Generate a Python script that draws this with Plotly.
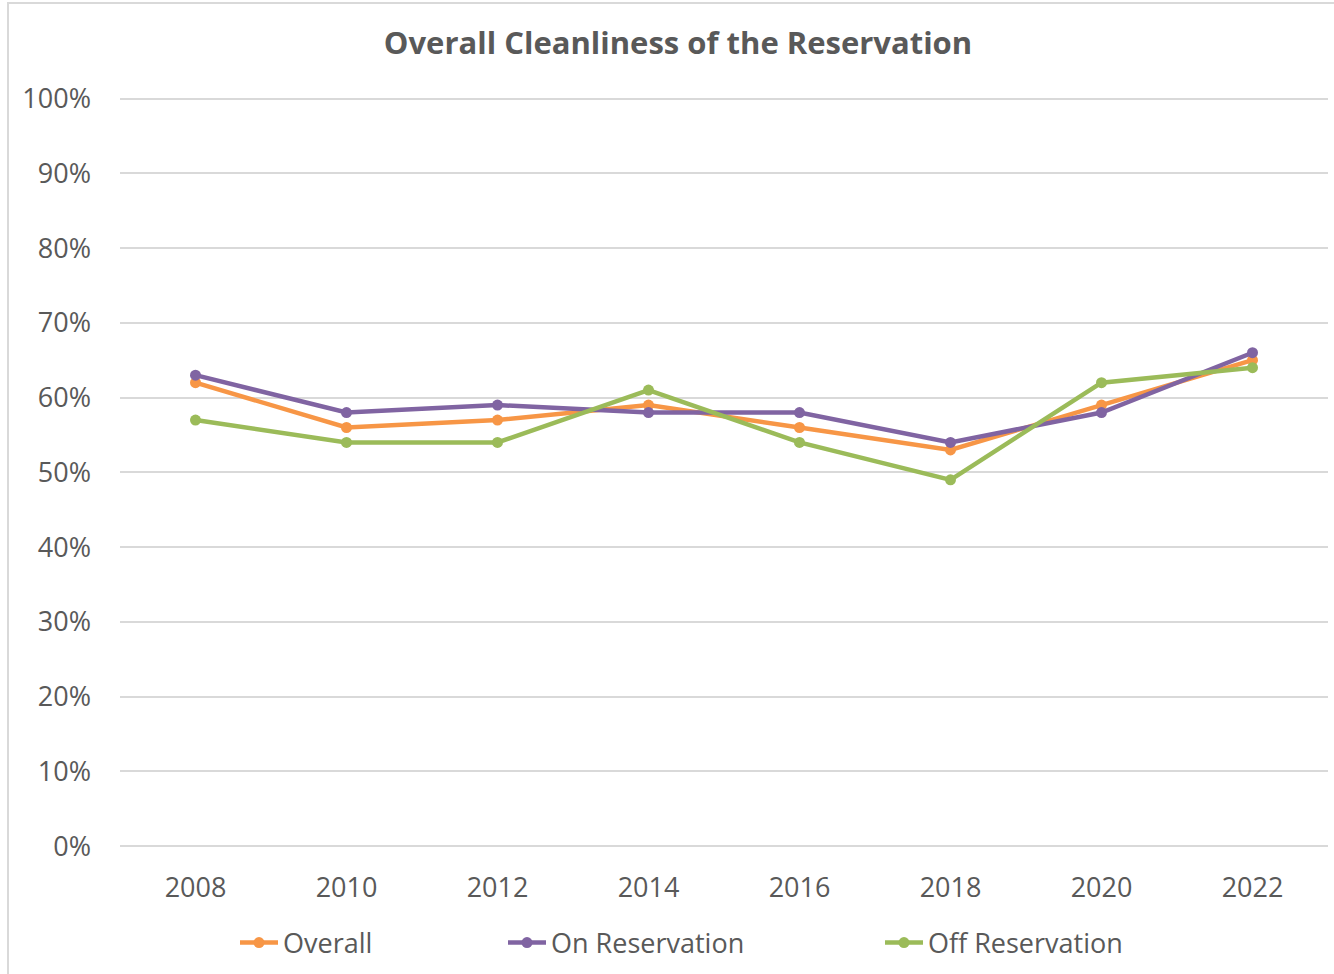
import plotly.graph_objects as go

years = ["2008", "2010", "2012", "2014", "2016", "2018", "2020", "2022"]
overall = [0.62, 0.56, 0.57, 0.59, 0.56, 0.53, 0.59, 0.65]
on_res = [0.63, 0.58, 0.59, 0.58, 0.58, 0.54, 0.58, 0.66]
off_res = [0.57, 0.54, 0.54, 0.61, 0.54, 0.49, 0.62, 0.64]

W, H = 1334, 974
L, R, T, B = 120, 6, 97, 127
pw, ph = W - L - R, H - T - B

def px_x(p):
    return (p - L) / pw

def px_y(p):
    return (H - B - p) / ph

txt = "#595959"
font = "Open Sans, Liberation Sans, sans-serif"

series = [
    ("Overall", overall, "#F79646", "legend", 235),
    ("On Reservation", on_res, "#8064A2", "legend2", 503),
    ("Off Reservation", off_res, "#9BBB59", "legend3", 880),
]

fig = go.Figure()
for name, vals, col, lg, _ in series:
    fig.add_trace(go.Scatter(
        x=years, y=vals, name=name, mode="lines+markers", legend=lg,
        line=dict(color=col, width=4.5), marker=dict(color=col, size=11),
    ))

legends = {}
for name, vals, col, lg, xp in series:
    legends[lg] = dict(
        x=px_x(xp), y=px_y(943), xanchor="left", yanchor="middle",
        orientation="h", font=dict(size=27, color=txt, family=font),
        bgcolor="rgba(0,0,0,0)", itemwidth=38,
    )

fig.update_layout(
    width=W, height=H,
    margin=dict(l=L, r=R, t=T, b=B),
    paper_bgcolor="white", plot_bgcolor="white",
    title=dict(text="<b>Overall Cleanliness of the Reservation</b>",
               x=678 / W, xanchor="center", y=1 - 43 / H, yanchor="middle",
               font=dict(size=31, color=txt, family=font)),
    font=dict(family=font, color=txt),
    showlegend=True,
    xaxis=dict(type="category", range=[-0.5, 7.5], showgrid=False,
               showline=False, zeroline=False, ticks="",
               tickfont=dict(size=27, color=txt), ticklabelstandoff=22),
    yaxis=dict(range=[-0.001, 1.002], dtick=0.1, tickformat=".0%",
               showgrid=True, gridcolor="#D9D9D9", gridwidth=1.5,
               zeroline=True, zerolinecolor="#D9D9D9", zerolinewidth=1.5,
               showline=False, ticks="",
               tickfont=dict(size=27, color=txt), ticklabelstandoff=28),
    shapes=[dict(type="rect", xref="paper", yref="paper",
                 x0=px_x(8), x1=px_x(1345), y0=px_y(990), y1=px_y(3),
                 line=dict(color="#D9D9D9", width=2), layer="below")],
    **legends,
)

fig.write_html("out.html", config={"displayModeBar": False},
               post_script="document.body.style.margin='0px';")
